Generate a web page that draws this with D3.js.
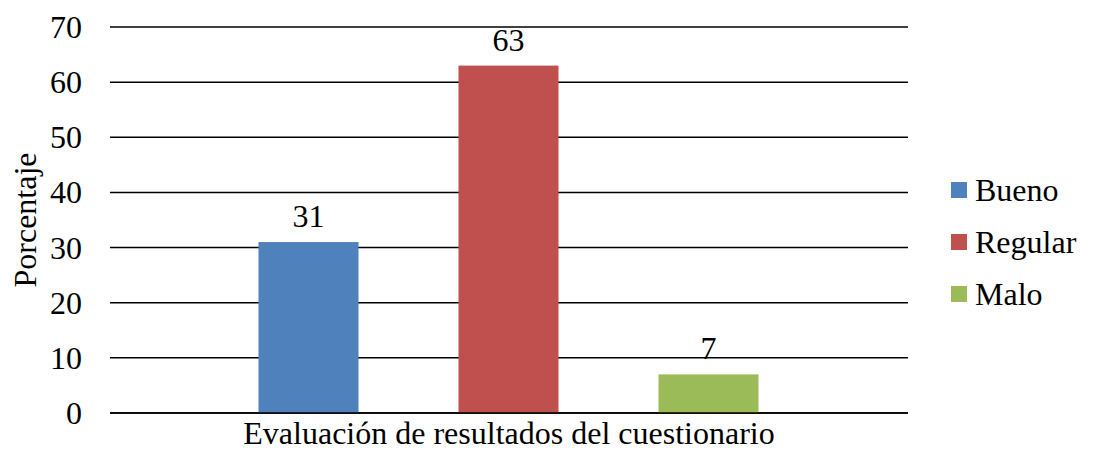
<!DOCTYPE html>
<html>
<head>
<meta charset="utf-8">
<script src="https://cdn.jsdelivr.net/npm/d3@7"></script>
<style>
  body { margin: 0; background: #fff; }
  svg text { font-family: "Liberation Serif", "Times New Roman", serif; fill: #000; }
</style>
</head>
<body>
<div id="chart"></div>
<script>
// datos
const categories = ["Bueno", "Regular", "Malo"]
const values = [31, 63, 7]
const colors = ["#4f81bd", "#c0504d", "#9bbb59"]
const yTicks = [0, 10, 20, 30, 40, 50, 60, 70]

const width = 1093, height = 450
const plot = { left: 110, right: 908, top: 27, bottom: 413 }
const fs = "32px"

const svg = d3.select("#chart")
  .append("svg")
  .attr("width", width)
  .attr("height", height)

const y = d3.scaleLinear()
  .domain([0, 70])
  .range([plot.bottom, plot.top])

const x = d3.scaleBand()
  .domain(categories)
  .range([208.5, 808.5])
  .paddingInner(0.5)
  .paddingOuter(0.25)

const color = d3.scaleOrdinal().domain(categories).range(colors)

// lineas de cuadricula
svg.append("g")
  .selectAll("line")
  .data(yTicks)
  .join("line")
  .attr("x1", plot.left)
  .attr("x2", plot.right)
  .attr("y1", d => y(d))
  .attr("y2", d => y(d))
  .attr("stroke", "#000")
  .attr("stroke-width", 1.5)

// eje y
const yAxis = svg.append("g")
  .attr("transform", `translate(${plot.left - 28},0)`)
  .call(d3.axisLeft(y).tickValues(yTicks).tickSize(0).tickPadding(0))
yAxis.select(".domain").remove()
yAxis.selectAll("text")
  .style("font-size", fs)
  .style("font-family", '"Liberation Serif", serif')
  .attr("dy", "0.33em")

// barras
svg.append("g")
  .selectAll("rect")
  .data(categories)
  .join("rect")
  .attr("x", d => x(d))
  .attr("width", x.bandwidth())
  .attr("y", (d, i) => y(values[i]))
  .attr("height", (d, i) => y(0) - y(values[i]))
  .attr("fill", d => color(d))

// linea base encima de las barras
svg.append("line")
  .attr("x1", plot.left).attr("x2", plot.right)
  .attr("y1", y(0)).attr("y2", y(0))
  .attr("stroke", "#000").attr("stroke-width", 1.5)

// etiquetas de valor
svg.append("g")
  .selectAll("text")
  .data(categories)
  .join("text")
  .attr("x", d => x(d) + x.bandwidth() / 2)
  .attr("y", (d, i) => y(values[i]) - 15)
  .attr("text-anchor", "middle")
  .style("font-size", fs)
  .text((d, i) => values[i])

// titulos de ejes
svg.append("text")
  .attr("x", (plot.left + plot.right) / 2)
  .attr("y", 444)
  .attr("text-anchor", "middle")
  .style("font-size", fs)
  .text("Evaluación de resultados del cuestionario")

svg.append("text")
  .attr("transform", "translate(36,220) rotate(-90)")
  .attr("text-anchor", "middle")
  .style("font-size", fs)
  .text("Porcentaje")

// leyenda
const legend = svg.append("g")
  .selectAll("g")
  .data(categories)
  .join("g")
  .attr("transform", (d, i) => `translate(951,${190 + i * 52})`)

legend.append("rect")
  .attr("x", 0).attr("y", -8)
  .attr("width", 16).attr("height", 16)
  .attr("fill", d => color(d))

legend.append("text")
  .attr("x", 24)
  .attr("y", 0)
  .attr("dy", "0.33em")
  .style("font-size", fs)
  .text(d => d)
</script>
</body>
</html>
